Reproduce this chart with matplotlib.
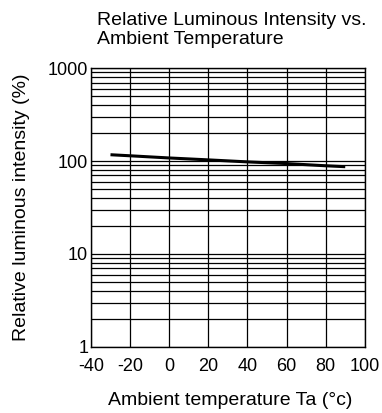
import numpy as np
import matplotlib
matplotlib.use('Agg')
import matplotlib.pyplot as plt
from matplotlib.ticker import LogLocator, FixedLocator, NullFormatter

plt.rcParams['font.family'] = ['Liberation Sans', 'DejaVu Sans']

# Curve
temps = [-30, -20, 0, 20, 40, 60, 80, 90]
intensity = [117, 114, 108, 103, 98, 94, 89, 87]

x_ticks = [-40, -20, 0, 20, 40, 60, 80, 100]
y_ticks = [1, 10, 100, 1000]
y_labels = ['1', '10', '100', '1000']

fig = plt.figure(figsize=(3.82, 4.13), dpi=100)
ax = fig.add_axes([0.238, 0.160, 0.717, 0.675])

ax.plot(temps, intensity, color='black', linewidth=2.2, solid_capstyle='butt')

ax.set_yscale('log')
ax.set_xlim(-40, 100)
ax.set_ylim(1, 1000)
ax.xaxis.set_major_locator(FixedLocator(x_ticks))
ax.set_xticklabels([str(t) for t in x_ticks])
ax.yaxis.set_major_locator(FixedLocator(y_ticks))
ax.set_yticklabels(y_labels)
ax.yaxis.set_minor_locator(LogLocator(base=10, subs=np.arange(2, 10)))
ax.yaxis.set_minor_formatter(NullFormatter())

ax.grid(True, which='both', axis='y', color='black', linewidth=0.9)
ax.grid(True, which='major', axis='x', color='black', linewidth=0.9)
ax.tick_params(which='both', length=0, labelsize=13, colors='black')
ax.tick_params(axis='x', pad=8)
ax.tick_params(axis='y', pad=2)
for s in ax.spines.values():
    s.set_color('black')
    s.set_linewidth(1.0)

ax.set_xlabel('Ambient temperature Ta (°c)', fontsize=14, labelpad=12, x=0.51)
ax.set_ylabel('Relative luminous intensity (%)', fontsize=14, labelpad=13)

fig.text(0.254, 0.972, 'Relative Luminous Intensity vs.\nAmbient Temperature',
         fontsize=14, ha='left', va='top', linespacing=1.15)

fig.savefig('out.png', dpi=100)
